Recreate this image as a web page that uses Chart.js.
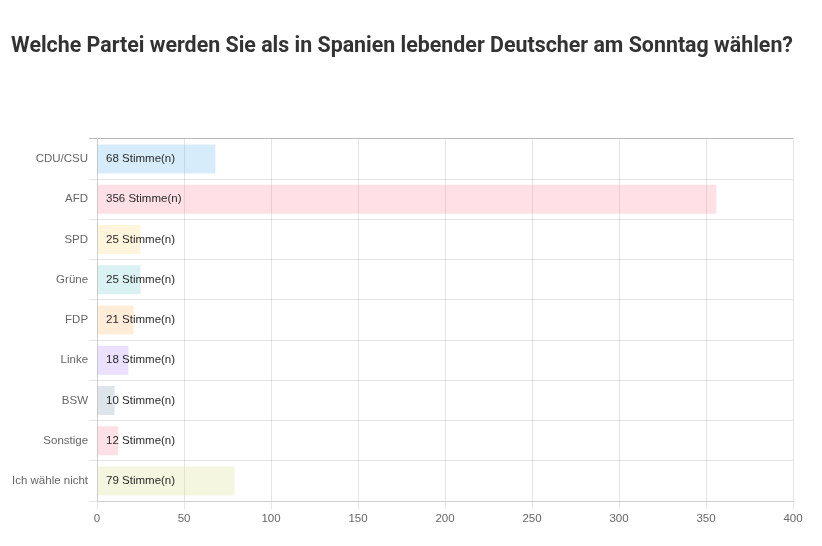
<!DOCTYPE html>
<html>
<head>
<meta charset="utf-8">
<script src="https://cdn.jsdelivr.net/npm/chart.js@4"></script>
<style>
  html, body { margin: 0; padding: 0; background: #fff; }
  #wrap { width: 822px; height: 546px; }
</style>
</head>
<body>
<div id="wrap"><canvas id="myChart" width="822" height="546"></canvas></div>
<script>
// Data
var parties = ["CDU/CSU", "AFD", "SPD", "Grüne", "FDP", "Linke", "BSW", "Sonstige", "Ich wähle nicht"];
var votes = [68, 356, 25, 25, 21, 18, 10, 12, 79];
var barColors = [
  "rgba(54, 162, 235, 0.2)",
  "rgba(255, 99, 132, 0.2)",
  "rgba(255, 206, 86, 0.2)",
  "rgba(75, 192, 192, 0.2)",
  "rgba(255, 159, 64, 0.2)",
  "rgba(153, 102, 255, 0.2)",
  "rgba(100, 130, 160, 0.22)",
  "rgba(255, 99, 132, 0.2)",
  "rgba(200, 212, 100, 0.2)"
];
var xTicks = [0, 50, 100, 150, 200, 250, 300, 350, 400];

// draws "NN Stimme(n)" at the start of every bar
var valueLabels = {
  id: "valueLabels",
  afterDatasetsDraw(chart) {
    var ctx = chart.ctx;
    var meta = chart.getDatasetMeta(0);
    var x0 = chart.scales.x.getPixelForValue(0);
    ctx.save();
    ctx.font = "11.5px 'Liberation Sans', Arial, sans-serif";
    ctx.fillStyle = "#2a2a2a";
    ctx.textBaseline = "middle";
    meta.data.forEach(function (bar, i) {
      ctx.fillText(votes[i] + " Stimme(n)", x0 + 9, bar.y);
    });
    ctx.restore();
  }
};

var ctx = document.getElementById("myChart").getContext("2d");
var myChart = new Chart(ctx, {
  type: "bar",
  data: {
    labels: parties,
    datasets: [{
      data: votes,
      backgroundColor: barColors,
      borderWidth: 0
    }]
  },
  plugins: [valueLabels],
  options: {
    indexAxis: "y",
    responsive: false,
    animation: false,
    layout: { padding: { left: 11, right: 29, bottom: 17, top: 0 } },
    plugins: {
      legend: { display: false },
      tooltip: { enabled: false },
      title: {
        display: true,
        text: "Welche Partei werden Sie als in Spanien lebender Deutscher am Sonntag wählen?",
        color: "#333",
        font: { family: "Roboto", size: 21.5, weight: "bold" },
        padding: { top: 34, bottom: 79 }
      }
    },
    scales: {
      x: {
        min: 0,
        max: 400,
        afterBuildTicks: function (axis) {
          axis.ticks = xTicks.map(function (v) { return { value: v }; });
        },
        ticks: { color: "#666", font: { family: "Liberation Sans", size: 11.5 } },
        grid: { color: "rgba(0,0,0,0.1)" },
        border: { color: "rgba(0,0,0,0.1)" }
      },
      y: {
        ticks: { color: "#666", padding: 1, font: { family: "Liberation Sans", size: 11.5 } },
        grid: {
          color: function (c) { return c.index === 0 ? "rgba(0,0,0,0.28)" : "rgba(0,0,0,0.1)"; }
        },
        border: { color: "rgba(0,0,0,0.1)" }
      }
    }
  }
});
</script>
</body>
</html>
